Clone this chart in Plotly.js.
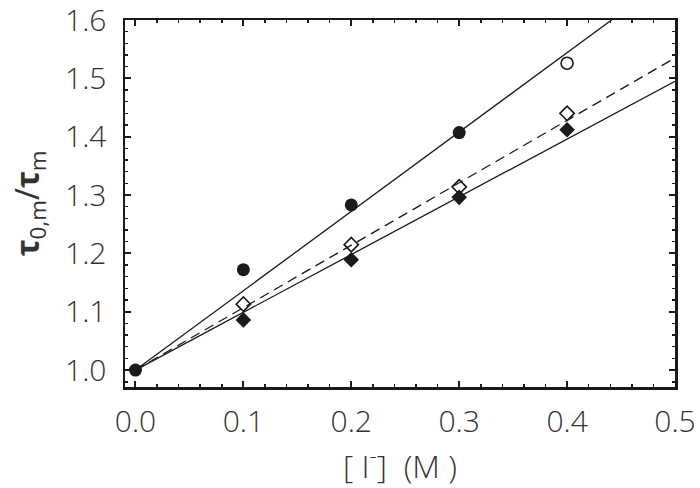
<!DOCTYPE html>
<html>
<head>
<meta charset="utf-8">
<script src="https://cdn.plot.ly/plotly-3.0.1.min.js"></script>
<style>
  body { margin: 0; background: #fff; }
  #plot { width: 700px; height: 488px; }
</style>
</head>
<body>
<div id="plot"></div>
<script>
// Iodide concentration (M)
let conc = [0, 0.1, 0.2, 0.3];
let concDiamond = [0.1, 0.2, 0.3, 0.4];

// Filled circles (0.4 point drawn open)
let circleY = [1.0, 1.172, 1.283, 1.407];
let openCircleX = [0.4];
let openCircleY = [1.526];

// Open diamonds
let openDiamondY = [1.113, 1.215, 1.314, 1.44];
// Filled diamonds
let filledDiamondY = [1.086, 1.189, 1.296, 1.412];

// Linear fits, endpoints at 0 and 0.5 M
let fitX = [0, 0.5];
let fitCircle = [1.0, 1.68];
let fitOpenDiamond = [1.0, 1.535];
let fitFilledDiamond = [1.0, 1.495];

let lineCol = "#1a1a1a";

let traces = [
    {x: fitX, y: fitCircle, mode: "lines", line: {color: lineCol, width: 1.3}},
    {x: fitX, y: fitOpenDiamond, mode: "lines", line: {color: lineCol, width: 1.3, dash: "10px,6px"}},
    {x: fitX, y: fitFilledDiamond, mode: "lines", line: {color: lineCol, width: 1.3}},
    {x: concDiamond, y: filledDiamondY, mode: "markers",
     marker: {symbol: "diamond", size: 12, color: lineCol}},
    {x: concDiamond, y: openDiamondY, mode: "markers",
     marker: {symbol: "diamond-open", size: 11, color: lineCol, line: {width: 1.6}}},
    {x: conc, y: circleY, mode: "markers",
     marker: {symbol: "circle", size: 13, color: lineCol}},
    {x: openCircleX, y: openCircleY, mode: "markers",
     marker: {symbol: "circle-open", size: 12, color: lineCol, line: {width: 1.6}}}
];

let tickFont = {family: "Open Sans", size: 30, color: "#333", weight: 300};

let layout = {
    width: 700,
    height: 488,
    showlegend: false,
    margin: {l: 125, r: 25, t: 20, b: 101},
    paper_bgcolor: "#fff",
    plot_bgcolor: "#fff",
    xaxis: {
        range: [-0.0097, 0.5],
        tickvals: [0, 0.1, 0.2, 0.3, 0.4, 0.5],
        tickformat: ".1f",
        ticks: "inside",
        ticklen: 6,
        tickwidth: 2,
        tickcolor: lineCol,
        mirror: "ticks",
        showline: true,
        linewidth: 2.5,
        linecolor: lineCol,
        showgrid: false,
        zeroline: false,
        minor: {ticks: "inside", dtick: 0.02, tick0: 0, ticklen: 3, tickwidth: 1.5, tickcolor: lineCol, showgrid: false},
        tickfont: tickFont,
        ticklabelstandoff: 6,
        ticklabeloverflow: "allow",
        title: {
            text: "[ I<sup>-</sup>] \u00a0(M )",
            font: {family: "Open Sans", size: 32, color: "#333", weight: 300},
            standoff: 14
        }
    },
    yaxis: {
        range: [0.971, 1.6],
        tickvals: [1.0, 1.1, 1.2, 1.3, 1.4, 1.5, 1.6],
        tickformat: ".1f",
        ticks: "inside",
        ticklen: 6,
        tickwidth: 2,
        tickcolor: lineCol,
        mirror: "ticks",
        showline: true,
        linewidth: 2.5,
        linecolor: lineCol,
        showgrid: false,
        zeroline: false,
        minor: {ticks: "inside", dtick: 0.02, tick0: 1.0, ticklen: 3, tickwidth: 1.5, tickcolor: lineCol, showgrid: false},
        tickfont: tickFont,
        ticklabelstandoff: 10,
        ticklabeloverflow: "allow",
        title: {
            text: "<b>τ</b><sub>0,m</sub>/<b>τ</b><sub>m</sub>",
            font: {family: "Open Sans", size: 32, color: "#333"},
            standoff: 16
        }
    }
};

Plotly.newPlot("plot", traces, layout, {displayModeBar: false, staticPlot: true});
</script>
</body>
</html>
